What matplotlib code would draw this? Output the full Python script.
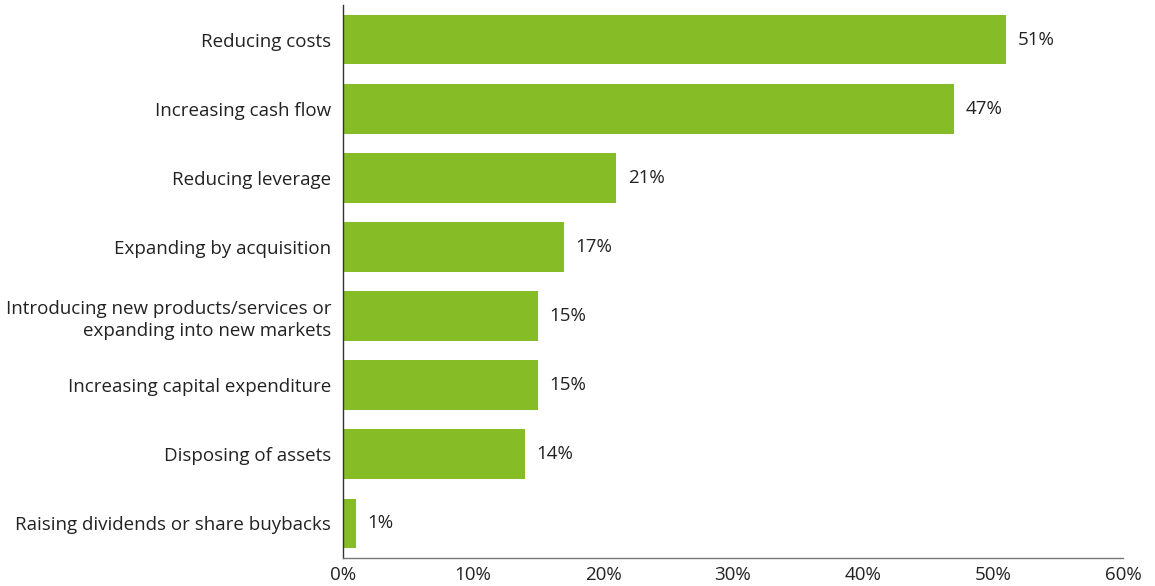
import matplotlib
matplotlib.use("Agg")
import matplotlib.pyplot as plt

plt.rcParams['font.family'] = ['Open Sans', 'DejaVu Sans']

categories = ['Reducing costs',
              'Increasing cash flow',
              'Reducing leverage',
              'Expanding by acquisition',
              'Introducing new products/services or\nexpanding into new markets',
              'Increasing capital expenditure',
              'Disposing of assets',
              'Raising dividends or share buybacks']
values = [51, 47, 21, 17, 15, 15, 14, 1]
x_ticks = [0, 10, 20, 30, 40, 50, 60]

green = '#86bc25'
text_col = '#222222'
fs = 13.5

fig = plt.figure(figsize=(11.55, 5.86), dpi=100)
ax = fig.add_axes([343 / 1155, 28 / 586, 780 / 1155, 553 / 586])

pos = list(range(len(categories)))
ax.barh(pos, values, height=0.72, color=green)
for p, v in zip(pos, values):
    ax.text(v + 0.9, p, f'{v}%', va='center', ha='left', fontsize=fs, color=text_col)

ax.set_ylim(7.5, -0.5)
ax.set_xlim(0, 60)
ax.set_yticks(pos)
ax.set_yticklabels(categories, fontsize=fs, color=text_col, linespacing=1.3)
ax.set_xticks(x_ticks)
ax.set_xticklabels([f'{t}%' for t in x_ticks], fontsize=fs, color=text_col)
ax.tick_params(length=0)
ax.tick_params(axis='y', pad=8.5)
ax.tick_params(axis='x', pad=6)

for s in ['top', 'right']:
    ax.spines[s].set_visible(False)
ax.spines['left'].set_color('#333333')
ax.spines['bottom'].set_color('#777777')
ax.spines['left'].set_linewidth(1)
ax.spines['bottom'].set_linewidth(1)

fig.savefig('out.png', dpi=100)
